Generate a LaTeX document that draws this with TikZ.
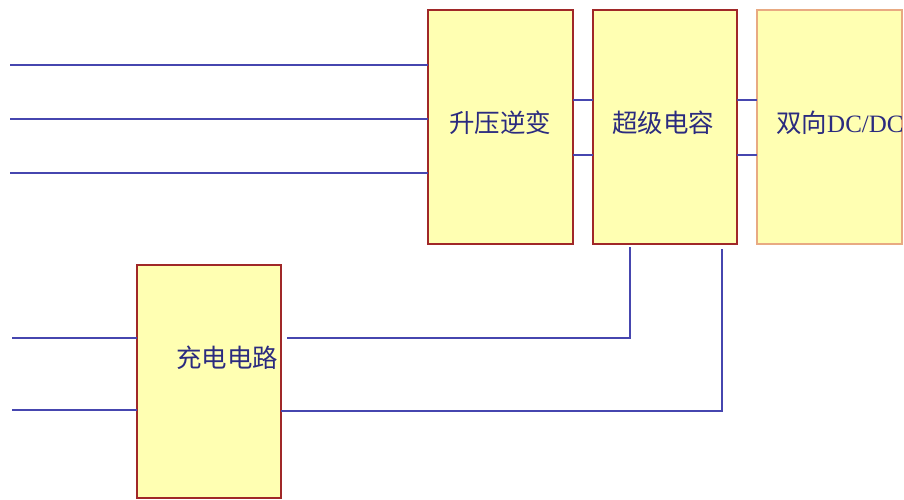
\documentclass[tikz,border=0pt]{standalone}
\usepackage{fontspec}
\newfontfamily\cjk{Noto Sans CJK SC}
\newfontfamily\tms{Liberation Serif}
\definecolor{boxfill}{RGB}{255,255,178}
\definecolor{boxline}{RGB}{160,40,40}
\definecolor{boxlinelight}{RGB}{232,170,130}
\definecolor{txt}{RGB}{43,43,127}
\definecolor{wire}{RGB}{70,70,175}
\begin{document}
\begin{tikzpicture}[x=1pt,y=-1pt,
  blk/.style={draw=boxline, line width=1.6pt, fill=boxfill, inner sep=0pt, outer sep=0pt},
  lbl/.style={text=txt, font=\cjk\fontsize{25.5}{27}\selectfont, inner sep=0pt},
  wire/.style={draw=wire, line width=1.8pt}]
\useasboundingbox (0,0) rectangle (904,500);
% boxes
\node[blk, minimum width=145pt, minimum height=234pt] (b1) at (500.5,127) {};
\node[blk, minimum width=144pt, minimum height=234pt] (b2) at (665,127) {};
\node[blk, draw=boxlinelight, minimum width=145pt, minimum height=234pt] (b3) at (829.5,127) {};
\node[blk, minimum width=144pt, minimum height=233pt] (b4) at (209,381.5) {};
% labels
\node[lbl] (t1) at (500,123) {升压逆变};
\node[lbl] (t2) at (663,123) {超级电容};
\node[lbl, anchor=west] (t3) at (776,123) {双向{\tms\fontsize{25}{27}\selectfont DC/DC}};
\node[lbl] (t4) at (227,358) {充电电路};
% free ends
\coordinate (l1) at (10,65);
\coordinate (l2) at (10,119);
\coordinate (l3) at (10,173);
\coordinate (l4) at (12,338);
\coordinate (l5) at (12,410);
\coordinate (r4a) at (287,338);
\coordinate (r4b) at (281,411);
\coordinate (c1) at (630,338);
\coordinate (c2) at (722,411);
\coordinate (v1) at (630,247);
\coordinate (v2) at (722,249);
% wires
\draw[wire] (l1) -- (l1 -| b1.west);
\draw[wire] (l2) -- (l2 -| b1.west);
\draw[wire] (l3) -- (l3 -| b1.west);
\draw[wire] (b1.east |- 0,100) -- (b2.west |- 0,100);
\draw[wire] (b1.east |- 0,155) -- (b2.west |- 0,155);
\draw[wire] (b2.east |- 0,100) -- (b3.west |- 0,100);
\draw[wire] (b2.east |- 0,155) -- (b3.west |- 0,155);
\draw[wire] (l4) -- (l4 -| b4.west);
\draw[wire] (l5) -- (l5 -| b4.west);
\draw[wire] (r4a) -- (c1) -- (v1);
\draw[wire] (r4b) -- (c2) -- (v2);
\end{tikzpicture}
\end{document}
